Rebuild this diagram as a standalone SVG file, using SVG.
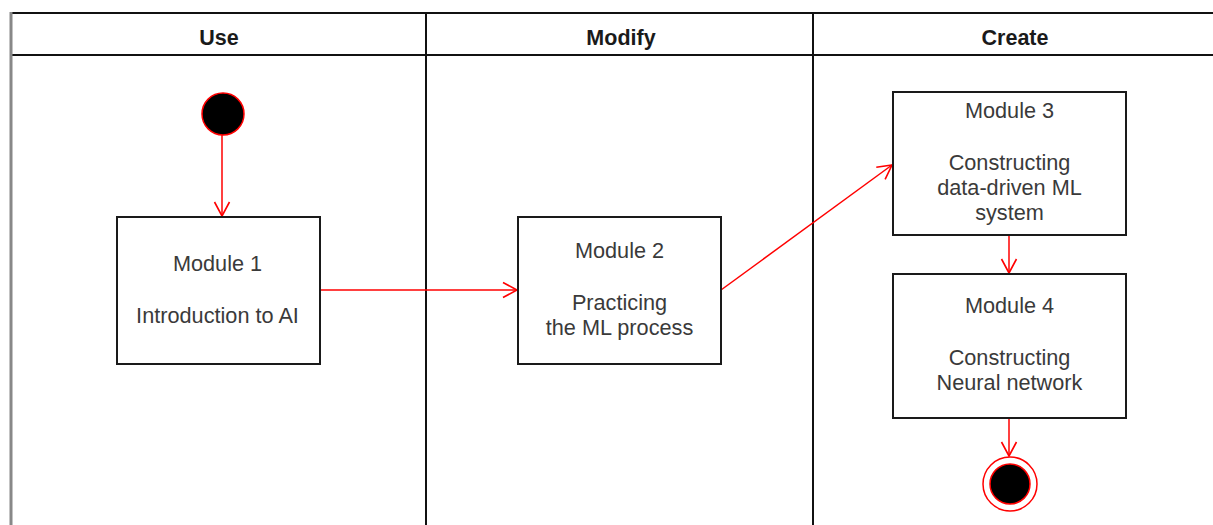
<svg xmlns="http://www.w3.org/2000/svg" width="1213" height="525" viewBox="0 0 1213 525">
  <style>
    .lane { stroke: #111; stroke-width: 2; fill: none; }
    .head { font-family: "Liberation Sans", Arial, sans-serif; font-size: 21.5px; font-weight: bold; fill: #1a1a1a; text-anchor: middle; }
    .box { fill: #fff; stroke: #1a1a1a; stroke-width: 2; }
    .label { font-family: "Liberation Sans", Arial, sans-serif; font-size: 21.7px; fill: #3a3a3a; text-anchor: middle; }
    .flow { stroke: #ff0000; stroke-width: 1.5; fill: none; }
  </style>
  <defs>
    <marker id="open-arrow" markerUnits="userSpaceOnUse" markerWidth="18" markerHeight="18" viewBox="0 0 18 18" refX="15" refY="9" orient="auto">
      <path d="M1,1.5 L15,9 L1,16.5" fill="none" stroke="#ff0000" stroke-width="1.6"/>
    </marker>
  </defs>
  <rect width="1213" height="525" fill="#fff"/>

  <!-- swimlane frame -->
  <g id="lanes">
    <line class="lane" x1="10" y1="13" x2="1213" y2="13"/>
    <line class="lane" x1="10" y1="55" x2="1213" y2="55"/>
    <line x1="11" y1="12" x2="11" y2="525" stroke="#888" stroke-width="3"/>
    <line class="lane" x1="426" y1="13" x2="426" y2="525"/>
    <line class="lane" x1="813" y1="13" x2="813" y2="525"/>
    <text class="head" x="219" y="45">Use</text>
    <text class="head" x="621" y="45">Modify</text>
    <text class="head" x="1015" y="45">Create</text>
  </g>

  <!-- connectors -->
  <g id="connectors">
    <line class="flow" x1="222" y1="135" x2="222" y2="216" marker-end="url(#open-arrow)"/>
    <line class="flow" x1="320" y1="290" x2="517" y2="290" marker-end="url(#open-arrow)"/>
    <line class="flow" x1="721" y1="290" x2="892" y2="165" stroke-width="1.2" marker-end="url(#open-arrow)"/>
    <line class="flow" x1="1009" y1="235" x2="1009" y2="273" marker-end="url(#open-arrow)"/>
    <line class="flow" x1="1009" y1="418" x2="1009" y2="456" marker-end="url(#open-arrow)"/>
  </g>

  <g id="start">
    <circle cx="223" cy="114" r="21" fill="#000" stroke="#ff0000" stroke-width="1.5"/>
  </g>

  <g id="module1">
    <rect class="box" x="117" y="217" width="203" height="147"/>
    <text class="label" x="217.5" y="271">Module 1</text>
    <text class="label" x="217.5" y="323">Introduction to AI</text>
  </g>

  <g id="module2">
    <rect class="box" x="518" y="217" width="203" height="147"/>
    <text class="label" x="619.5" y="258">Module 2</text>
    <text class="label" x="619.5" y="310">Practicing</text>
    <text class="label" x="619.5" y="335">the ML process</text>
  </g>

  <g id="module3">
    <rect class="box" x="893" y="92" width="233" height="143"/>
    <text class="label" x="1009.5" y="118">Module 3</text>
    <text class="label" x="1009.5" y="170">Constructing</text>
    <text class="label" x="1009.5" y="195">data-driven ML</text>
    <text class="label" x="1009.5" y="220">system</text>
  </g>

  <g id="module4">
    <rect class="box" x="893" y="274" width="233" height="144"/>
    <text class="label" x="1009.5" y="313">Module 4</text>
    <text class="label" x="1009.5" y="365">Constructing</text>
    <text class="label" x="1009.5" y="390">Neural network</text>
  </g>

  <g id="end">
    <circle cx="1010" cy="484" r="27" fill="#fff" stroke="#ff0000" stroke-width="1.5"/>
    <circle cx="1010" cy="484" r="20" fill="#000" stroke="#ff0000" stroke-width="1.5"/>
  </g>
</svg>
